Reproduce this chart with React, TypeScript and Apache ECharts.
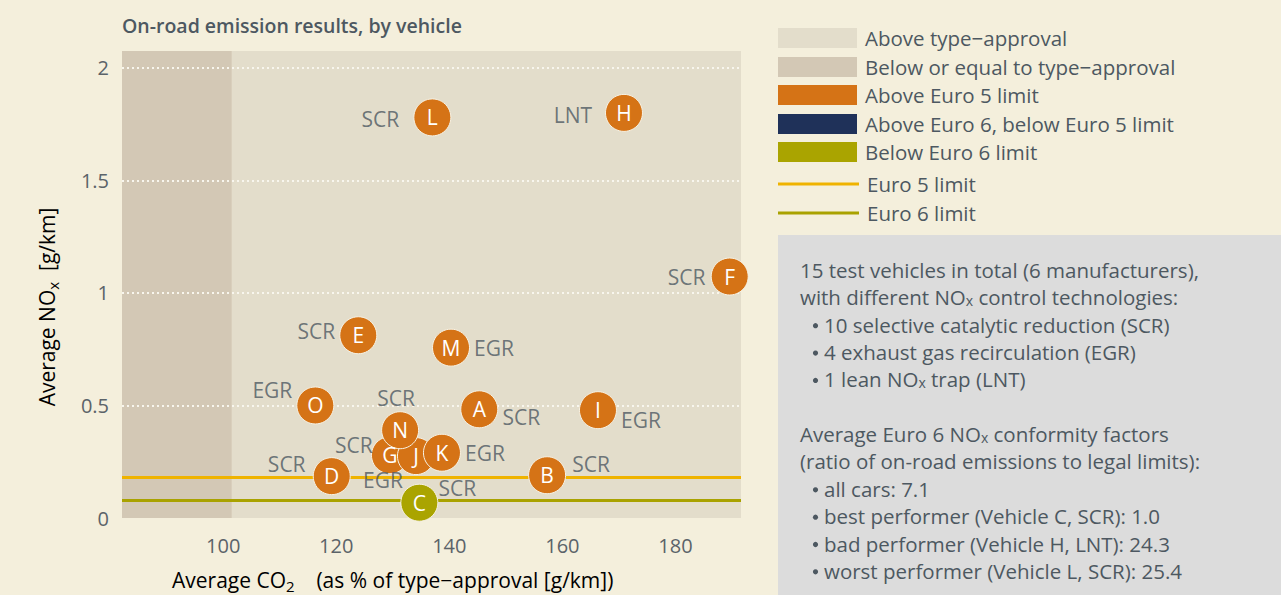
import React, { useEffect, useRef } from 'react';
import * as echarts from 'echarts';

// ---------- data ----------
const vehicles = ['A', 'B', 'C', 'D', 'E', 'F', 'G', 'H', 'I', 'J', 'K', 'L', 'M', 'N', 'O'];
const co2Pct = [145.3, 157.3, 134.7, 119.2, 123.9, 189.6, 129.5, 170.9, 166.3, 134.1, 138.7, 137.0, 140.3, 131.3, 116.3];
const noxGkm = [0.483, 0.19, 0.068, 0.186, 0.812, 1.073, 0.279, 1.8, 0.479, 0.275, 0.29, 1.78, 0.757, 0.39, 0.5];
const technology = ['SCR', 'SCR', 'SCR', 'SCR', 'SCR', 'SCR', 'SCR', 'LNT', 'EGR', 'EGR', 'EGR', 'SCR', 'EGR', 'SCR', 'EGR'];
// label placement (px offset of technology label from the marker centre)
const techLabelOffset: [number, number][] = [
  [42, 8], [44, -11], [38, -15], [-45, -12], [-42, -4], [-43, 0], [-36, -10], [-51, 2],
  [43, 10], [-33, 24], [43, 0], [-52, 2], [43, 0], [-4, -32], [-43, -15],
];
const xTickValues = [100, 120, 140, 160, 180];
const xRange = [82.1, 191.6];
const yRange = [0, 2.075];
const yInterval = 0.5;
const typeApprovalEdge = 101.5;
const euro5Limit = 0.18;
const euro6Limit = 0.08;

const legendBoxes = ['Above type\u2212approval', 'Below or equal to type\u2212approval', 'Above Euro 5 limit', 'Above Euro 6, below Euro 5 limit', 'Below Euro 6 limit'];
const legendLines = ['Euro 5 limit', 'Euro 6 limit'];
const noteLines = [
  { t: '15 test vehicles in total (6 manufacturers),', b: false },
  { t: 'with different NO{s|x} control technologies:', b: false },
  { t: '10 selective catalytic reduction (SCR)', b: true },
  { t: '4 exhaust gas recirculation (EGR)', b: true },
  { t: '1 lean NO{s|x} trap (LNT)', b: true },
  { t: '', b: false },
  { t: 'Average Euro 6 NO{s|x} conformity factors', b: false },
  { t: '(ratio of on-road emissions to legal limits):', b: false },
  { t: 'all cars: 7.1', b: true },
  { t: 'best performer (Vehicle C, SCR): 1.0', b: true },
  { t: 'bad performer (Vehicle H, LNT): 24.3', b: true },
  { t: 'worst performer (Vehicle L, SCR): 25.4', b: true },
];

// ---------- style ----------
const FONT = '"Open Sans", "Noto Sans", sans-serif';
const TEXT = '#4d5861';
const TICK = '#5b6369';
const PAGE_BG = '#f4efdc';
const PLOT_BG = '#e3ddcb';
const BAND_BG = '#d3c8b5';
const ORANGE = '#d57316';
const NAVY = '#1f3159';
const OLIVE = '#aaa400';
const EURO5 = '#efb300';
const EURO6 = '#a9a200';
const boxColors = [PLOT_BG, BAND_BG, ORANGE, NAVY, OLIVE];
const lineColors = [EURO5, EURO6];

const colorFor = (v: number) => (v > euro5Limit ? ORANGE : v > euro6Limit ? NAVY : OLIVE);

export default function App() {
  const ref = useRef<HTMLDivElement>(null);
  useEffect(() => {
    document.body.style.margin = '0';
    const chart = echarts.init(ref.current!, null, { renderer: 'svg' });

    const subRich = {
      s: { fontSize: 14, fontFamily: FONT, color: TEXT, verticalAlign: 'bottom' as const },
    };
    const axisRich = {
      n: { fontSize: 21, fontFamily: FONT, color: TEXT, lineHeight: 26 },
      s: { fontSize: 15, fontFamily: FONT, color: TEXT, verticalAlign: 'bottom' as const },
    };

    const graphics: any[] = [];
    graphics.push({
      type: 'text', x: 122, y: 25,
      style: { text: 'On-road emission results, by vehicle', fontSize: 19.5, fontWeight: 600, fontFamily: FONT, fill: TEXT, verticalAlign: 'middle', align: 'left' },
    });
    graphics.push({
      type: 'text', x: 47, y: 307, rotation: Math.PI / 2,
      style: { text: '{n|Average NO}{s|x}{n|  [g/km]}', align: 'center', verticalAlign: 'middle', rich: axisRich },
    });
    graphics.push({
      type: 'text', x: 172, y: 580,
      style: { text: '{n|Average CO}{s|2}{n|    (as % of type\u2212approval [g/km])}', align: 'left', verticalAlign: 'middle', rich: axisRich },
    });
    const rowY = [38, 67, 95, 124, 152];
    legendBoxes.forEach((label, i) => {
      graphics.push({ type: 'rect', shape: { x: 778, y: rowY[i] - 10, width: 79, height: 20 }, style: { fill: boxColors[i] } });
      graphics.push({ type: 'text', x: 865, y: rowY[i], style: { text: label, fontSize: 20.5, fontFamily: FONT, fill: TEXT, verticalAlign: 'middle' } });
    });
    const lineY = [184, 213];
    legendLines.forEach((label, i) => {
      graphics.push({ type: 'line', shape: { x1: 778, y1: lineY[i], x2: 859, y2: lineY[i] }, style: { stroke: lineColors[i], lineWidth: 3 } });
      graphics.push({ type: 'text', x: 867, y: lineY[i], style: { text: label, fontSize: 20.5, fontFamily: FONT, fill: TEXT, verticalAlign: 'middle' } });
    });
    graphics.push({ type: 'rect', shape: { x: 778, y: 235, width: 503, height: 360 }, style: { fill: '#dcdcdc' } });
    noteLines.forEach((ln, i) => {
      if (!ln.t) return;
      const y = 270 + i * 27.35;
      if (ln.b) {
        graphics.push({ type: 'circle', shape: { cx: 815.5, cy: y + 1, r: 2.6 }, style: { fill: TEXT } });
      }
      graphics.push({
        type: 'text', x: ln.b ? 824 : 800, y,
        style: { text: ln.t, fontSize: 20.5, fontFamily: FONT, fill: TEXT, verticalAlign: 'middle', rich: subRich },
      });
    });

    chart.setOption({
      animation: false,
      backgroundColor: PAGE_BG,
      grid: { left: 122, top: 51, width: 619, height: 467, containLabel: false, outerBoundsMode: 'none', show: false },
      xAxis: {
        type: 'value', min: xRange[0], max: xRange[1], z: 2,
        axisLine: { show: false }, axisTick: { show: false }, splitLine: { show: false },
        axisLabel: { customValues: xTickValues, color: TICK, fontSize: 20, fontFamily: FONT, margin: 17 },
      },
      yAxis: {
        type: 'value', min: yRange[0], max: yRange[1], interval: yInterval, z: 2,
        axisLine: { show: false }, axisTick: { show: false },
        axisLabel: { showMaxLabel: false, color: TICK, fontSize: 20, fontFamily: FONT, margin: 13 },
        splitLine: { show: true, showMinLine: false, showMaxLine: false, lineStyle: { color: '#f8f6ee', width: 2, type: [2, 3] } },
      },
      series: [
        {
          name: 'background', type: 'scatter', data: [], z: 0, silent: true,
          markArea: {
            silent: true, z: 0,
            data: [
              [{ xAxis: xRange[0], yAxis: yRange[0], itemStyle: { color: PLOT_BG } }, { xAxis: xRange[1], yAxis: yRange[1] }],
              [{ xAxis: xRange[0], yAxis: yRange[0], itemStyle: { color: BAND_BG } }, { xAxis: typeApprovalEdge, yAxis: yRange[1] }],
            ],
          },
        },
        {
          name: 'limits', type: 'scatter', data: [], z: 2.5, silent: true,
          markLine: {
            silent: true, symbol: 'none', label: { show: false }, z: 2.5,
            data: [
              { yAxis: euro5Limit, lineStyle: { color: EURO5, width: 3, type: 'solid' } },
              { yAxis: euro6Limit, lineStyle: { color: EURO6, width: 3, type: 'solid' } },
            ],
          },
        },
        {
          name: 'vehicles', type: 'scatter', z: 3, symbolSize: 37,
          data: vehicles.map((v, i) => ({ name: v, value: [co2Pct[i], noxGkm[i]], itemStyle: { color: colorFor(noxGkm[i]) } })),
          itemStyle: { borderColor: '#f7f2e4', borderWidth: 1, opacity: 1 },
          label: { show: true, position: 'inside', formatter: '{b}', color: '#ffffff', fontSize: 21, fontFamily: FONT },
        },
        {
          name: 'technology', type: 'scatter', z: 4, symbolSize: 1, silent: true,
          data: vehicles.map((v, i) => ({
            name: technology[i], value: [co2Pct[i], noxGkm[i]],
            label: { offset: techLabelOffset[i] },
          })),
          itemStyle: { color: 'rgba(0,0,0,0)' },
          label: { show: true, position: 'inside', formatter: '{b}', color: TEXT, fontSize: 21, fontFamily: FONT },
        },
      ],
      graphic: graphics,
    });
    return () => chart.dispose();
  }, []);
  return <div ref={ref} style={{ position: 'absolute', left: 0, top: 0, width: 1281, height: 595 }} />;
}
